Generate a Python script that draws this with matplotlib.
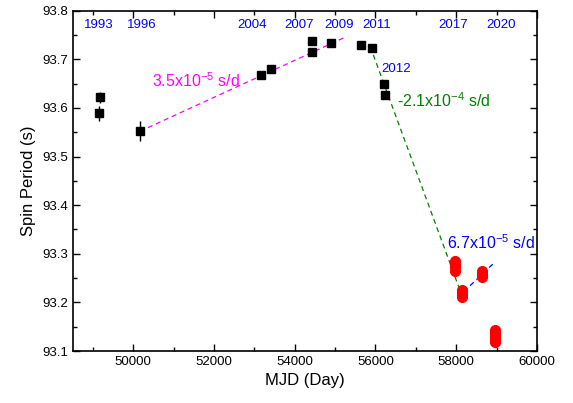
import numpy as np
import matplotlib
matplotlib.use('Agg')
import matplotlib.pyplot as plt
from matplotlib.ticker import MultipleLocator

plt.rcParams['font.family'] = ['Liberation Sans', 'DejaVu Sans']
plt.rcParams['mathtext.fontset'] = 'custom'
plt.rcParams['mathtext.rm'] = 'Liberation Sans'

# black squares (older measurements)
mjd_old = [49150, 49175, 50165, 53159, 53405, 54420, 54420, 54890, 55633, 55905, 56202, 56226]
p_old = [93.589, 93.622, 93.552, 93.668, 93.680, 93.738, 93.715, 93.734, 93.729, 93.723, 93.649, 93.627]
err_old = [0.016, 0.011, 0.021, 0.004, 0.003, 0.003, 0.003, 0.003, 0.003, 0.003, 0.004, 0.004]

# red circles (recent measurements)
mjd_new = [57963, 57963, 57963, 57963, 58140, 58140, 58140, 58140,
           58634, 58634, 58634, 58634, 58965, 58965, 58965, 58965, 58965, 58965]
p_new = [93.286, 93.280, 93.272, 93.265, 93.225, 93.220, 93.215, 93.211,
         93.264, 93.260, 93.256, 93.252, 93.143, 93.138, 93.133, 93.128, 93.123, 93.119]

# trend lines
fit1_x = [50165, 55237]
fit1_y = [93.552, 93.745]
fit2_x = [55872, 58107]
fit2_y = [93.726, 93.222]
fit3_x = [58188, 58923]
fit3_y = [93.222, 93.280]

years = ['1993', '1996', '2004', '2007', '2009', '2011', '2017', '2020']
year_x = [49150, 50207, 52953, 54099, 55096, 56036, 57916, 59114]

fig = plt.figure(figsize=(5.73, 4.03), dpi=100)
ax = fig.add_axes([0.1269, 0.129, 0.8101, 0.8444])

ax.plot(fit1_x, fit1_y, '--', color='#ff00ff', lw=0.9, dashes=(4, 3))
ax.plot(fit2_x, fit2_y, '--', color='#008000', lw=0.9, dashes=(4, 3))
ax.plot(fit3_x, fit3_y, '--', color='#0000ff', lw=0.9, dashes=(4, 3))

ax.errorbar(mjd_old, p_old, yerr=err_old, fmt='s', color='black', ms=6,
            elinewidth=1, capsize=0, zorder=3)
ax.plot(mjd_new, p_new, 'o', color='red', ms=7, zorder=3)

ax.set_xlim(48500, 60000)
ax.set_ylim(93.1, 93.8)
ax.xaxis.set_major_locator(MultipleLocator(2000))
ax.xaxis.set_minor_locator(MultipleLocator(1000))
ax.yaxis.set_major_locator(MultipleLocator(0.1))
ax.yaxis.set_minor_locator(MultipleLocator(0.05))
ax.tick_params(which='both', direction='in', top=True, right=True, labelsize=9.5, width=1)
ax.tick_params(which='major', length=5)
ax.tick_params(which='minor', length=3)
for s in ax.spines.values():
    s.set_linewidth(1.2)

ax.set_xlabel('MJD (Day)', fontsize=12)
ax.set_ylabel('Spin Period (s)', fontsize=12)

for y, x in zip(years, year_x):
    ax.text(x, 93.770, y, color='#0000ff', fontsize=9.5, ha='center', va='center')
ax.text(56516, 93.681, '2012', color='#0000ff', fontsize=9.5, ha='center', va='center')

ax.text(50462, 93.657, r'3.5x10$^{-5}$ s/d', color='#ff00ff', fontsize=11.5, va='center')
ax.text(56528, 93.616, r'-2.1x10$^{-4}$ s/d', color='#008000', fontsize=11.5, va='center')
ax.text(57785, 93.322, r'6.7x10$^{-5}$ s/d', color='#0000ff', fontsize=11.5, va='center')

fig.savefig('out.png', dpi=100)
